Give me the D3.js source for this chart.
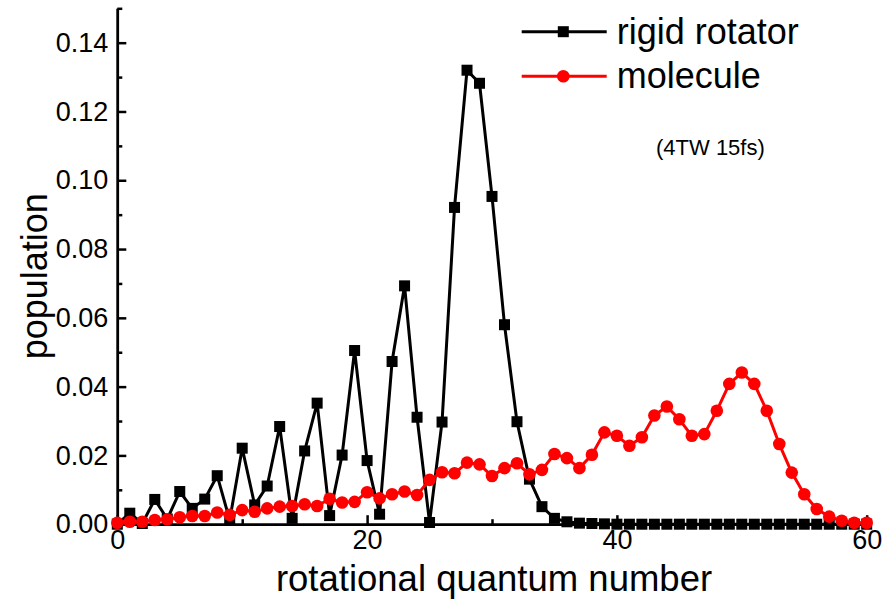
<!DOCTYPE html>
<html>
<head>
<meta charset="utf-8">
<script src="https://cdn.jsdelivr.net/npm/d3@7"></script>
<style>
  body { margin: 0; background: #fff; }
  svg { display: block; font-family: "Liberation Sans", Arial, sans-serif; }
</style>
</head>
<body>
<div id="chart"></div>
<script>
// rotational quantum number J = 0..60
const jValues = d3.range(0, 61);

const rigidRotator = [
    0, 0.0032, 0.0002, 0.0072, 0.0015, 0.0095, 0.0046, 0.0073, 0.0141, 0.0012,
    0.0221, 0.0056, 0.0111, 0.0284, 0.0017, 0.0213, 0.0352, 0.0025, 0.0201, 0.0505,
    0.0185, 0.0029, 0.0473, 0.0693, 0.0311, 0.0005, 0.0297, 0.0921, 0.1320, 0.1282,
    0.0953, 0.0580, 0.0298, 0.0131, 0.0051, 0.0017, 0.0007, 0.0003, 0.0002, 0.0001,
    0, 0, 0, 0, 0, 0, 0, 0, 0, 0,
    0, 0, 0, 0, 0, 0, 0, 0, 0, 0,
    0
];

const molecule = [
    0.0004, 0.0007, 0.0007, 0.0012, 0.0014, 0.0020, 0.0024, 0.0024, 0.0034, 0.0027,
    0.0041, 0.0036, 0.0046, 0.0051, 0.0053, 0.0058, 0.0053, 0.0074, 0.0063, 0.0065,
    0.0093, 0.0075, 0.0087, 0.0095, 0.0085, 0.0129, 0.0151, 0.0148, 0.0179, 0.0174,
    0.0140, 0.0163, 0.0177, 0.0145, 0.0158, 0.0204, 0.0192, 0.0163, 0.0202, 0.0267,
    0.0257, 0.0228, 0.0253, 0.0316, 0.0342, 0.0305, 0.0257, 0.0262, 0.0330, 0.0408,
    0.0441, 0.0408, 0.0330, 0.0233, 0.0150, 0.0087, 0.0044, 0.0022, 0.0010, 0.0004,
    0.0004
];

const xMajorTicks = [0, 20, 40, 60];
const xMinorTicks = [10, 30, 50];
const yMajorTicks = [0, 0.02, 0.04, 0.06, 0.08, 0.10, 0.12, 0.14];
const yMinorTicks = [0.01, 0.03, 0.05, 0.07, 0.09, 0.11, 0.13, 0.15];

const seriesNames = ["rigid rotator", "molecule"];
const note = "(4TW 15fs)";

let width = 887, height = 606;

let svg = d3.select("#chart")
    .append("svg")
        .attr("width", width)
        .attr("height", height);

let x = d3.scaleLinear()
    .domain([0, 60])
    .range([117.3, 866.7]);

let y = d3.scaleLinear()
    .domain([0, 0.15])
    .range([524.2, 8.3]);

// axes: ticks point inward, labels outside
let xAxis = svg.append("g")
    .attr("transform", `translate(0,${y(0)})`)
    .call(d3.axisBottom(x).tickValues(xMajorTicks).tickSizeInner(-9).tickSizeOuter(0).tickPadding(6));
let xMinor = svg.append("g")
    .attr("transform", `translate(0,${y(0)})`)
    .call(d3.axisBottom(x).tickValues(xMinorTicks).tickSizeInner(-5).tickSizeOuter(0).tickFormat(""));

let yAxis = svg.append("g")
    .attr("transform", `translate(${x(0)},0)`)
    .call(d3.axisLeft(y).tickValues(yMajorTicks).tickSizeInner(-9).tickSizeOuter(0).tickPadding(9).tickFormat(d3.format(".2f")));
let yMinor = svg.append("g")
    .attr("transform", `translate(${x(0)},0)`)
    .call(d3.axisLeft(y).tickValues(yMinorTicks).tickSizeInner(-5).tickSizeOuter(0).tickFormat(""));

[xAxis, xMinor, yAxis, yMinor].forEach(g => {
    g.selectAll("path, line").attr("stroke", "#000").attr("stroke-width", 2.5);
    g.selectAll("text")
        .attr("fill", "#000")
        .style("font-size", "27px")
        .style("font-family", "'Liberation Sans', Arial, sans-serif");
});

// axis titles
svg.append("text")
    .attr("x", (x(0) + x(60)) / 2 + 2)
    .attr("y", 591)
    .attr("text-anchor", "middle")
    .style("font-size", "36.5px")
    .text("rotational quantum number");

svg.append("text")
    .attr("transform", `translate(47,${(y(0) + y(0.15)) / 2 + 10}) rotate(-90)`)
    .attr("text-anchor", "middle")
    .style("font-size", "36px")
    .text("population");

// series
let series = [
    {name: seriesNames[0], values: rigidRotator, color: "#000", marker: "square"},
    {name: seriesNames[1], values: molecule, color: "#ff0000", marker: "circle"}
];

let line = d3.line()
    .x((d, i) => x(jValues[i]))
    .y(d => y(d));

series.forEach(s => {
    let g = svg.append("g");
    g.append("path")
        .datum(s.values)
        .attr("fill", "none")
        .attr("stroke", s.color)
        .attr("stroke-width", 3)
        .attr("stroke-linejoin", "round")
        .attr("d", line);

    if (s.marker == "square") {
        g.selectAll("rect")
            .data(s.values)
            .enter()
            .append("rect")
                .attr("x", (d, i) => x(jValues[i]) - 5.5)
                .attr("y", d => y(d) - 5.5)
                .attr("width", 11)
                .attr("height", 11)
                .attr("fill", s.color);
    } else {
        g.selectAll("circle")
            .data(s.values)
            .enter()
            .append("circle")
                .attr("cx", (d, i) => x(jValues[i]))
                .attr("cy", d => y(d))
                .attr("r", 6.3)
                .attr("fill", s.color);
    }
});

// legend
let legend = svg.append("g");
series.forEach((s, i) => {
    let ly = 31.7 + i * 44.5;
    legend.append("line")
        .attr("x1", 521.7).attr("x2", 606.7)
        .attr("y1", ly).attr("y2", ly)
        .attr("stroke", s.color)
        .attr("stroke-width", 3);
    if (s.marker == "square") {
        legend.append("rect")
            .attr("x", 563.3 - 5.5).attr("y", ly - 5.5)
            .attr("width", 11).attr("height", 11)
            .attr("fill", s.color);
    } else {
        legend.append("circle")
            .attr("cx", 563.3).attr("cy", ly)
            .attr("r", 6.3)
            .attr("fill", s.color);
    }
    legend.append("text")
        .attr("x", 616.7)
        .attr("y", ly + 12)
        .style("font-size", "36px")
        .text(s.name);
});

svg.append("text")
    .attr("x", 656)
    .attr("y", 155)
    .style("font-size", "22px")
    .text(note);
</script>
</body>
</html>
